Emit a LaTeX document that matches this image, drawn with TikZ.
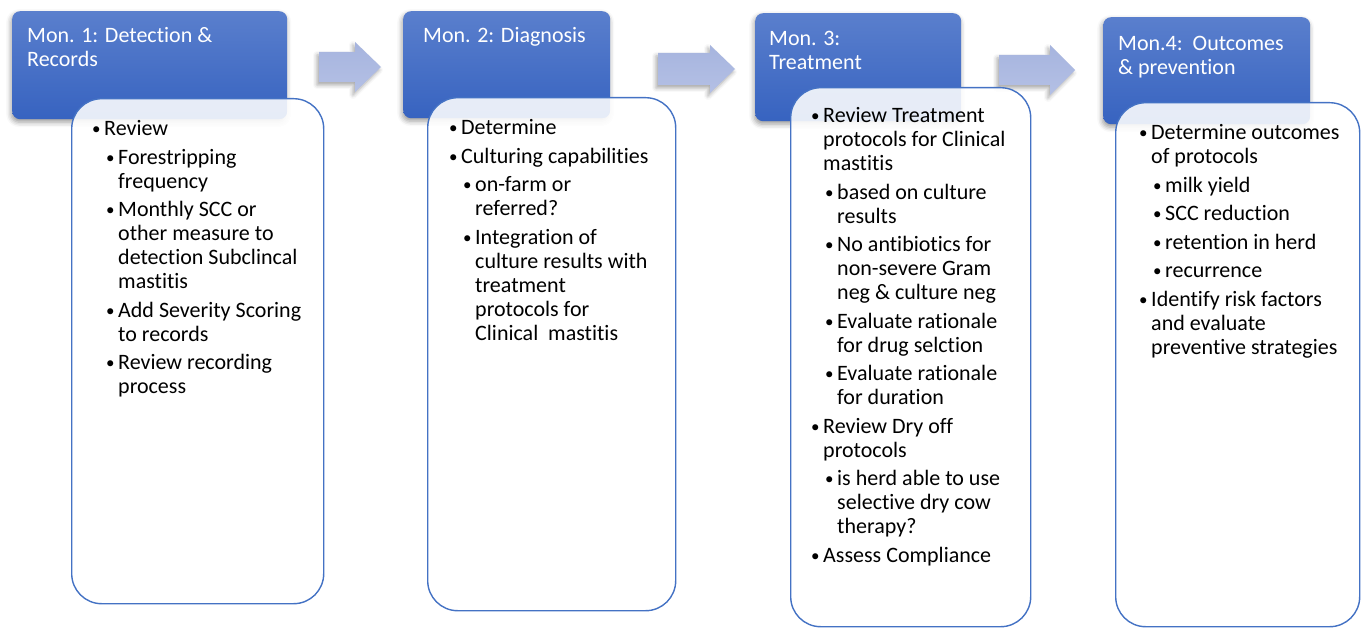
\documentclass[tikz,border=0pt]{standalone}
\usepackage{fontspec}
\setmainfont{Carlito}[Ligatures=NoCommon]
\usetikzlibrary{shadows.blur}

\definecolor{hdrtop}{HTML}{5A7FCD}
\definecolor{hdrbot}{HTML}{3763C0}
\definecolor{boxline}{HTML}{4472C4}
\definecolor{arrtop}{HTML}{A6B4DE}
\definecolor{arrbot}{HTML}{B4C0E5}

% a slightly smaller bullet, kept on the x-height centre line
\newcommand\bul{\raisebox{1.2pt}{\fontsize{17pt}{17pt}\selectfont\textbullet}}
% first-level and second-level bullet items
\newcommand\itemA[1]{\par\hangindent=12pt\hangafter=1\noindent
  \makebox[12pt][l]{\bul}#1\par}
\newcommand\itemB[1]{\par\hangindent=26pt\hangafter=1\noindent
  \hspace*{14pt}\makebox[12pt][l]{\bul}#1\par}
\newenvironment{bulletlist}
  {\begin{minipage}[t]{300pt}\fontsize{22pt}{24pt}\selectfont
   \setlength{\parskip}{4.5pt}\setlength{\parindent}{0pt}}
  {\end{minipage}}
\newcommand\hdr[1]{\parbox[t]{260pt}{\fontsize{22pt}{24pt}\selectfont
  \raggedright #1}}

\tikzset{
  header/.style={rectangle, rounded corners=8pt, anchor=north west,
    top color=hdrtop, bottom color=hdrbot, draw=none, inner sep=0pt,
    blur shadow={shadow xshift=-1pt, shadow yshift=-3pt,
      shadow blur radius=5pt, shadow opacity=40}},
  hdrtext/.style={anchor=base west, inner sep=0pt, text=white},
  listbox/.style={rectangle, rounded corners=30pt, anchor=north west,
    draw=boxline, line width=1.4pt, fill=white, fill opacity=0.88,
    draw opacity=1, inner sep=0pt},
  listtext/.style={anchor=base west, inner sep=0pt},
  flowarrow/.style={draw=none, top color=arrtop, bottom color=arrbot,
    blur shadow={shadow xshift=-2pt, shadow yshift=-3pt,
      shadow blur radius=4pt, shadow opacity=35}}
}

\begin{document}
\begin{tikzpicture}[x=1pt,y=-1pt]
\useasboundingbox (0,0) rectangle (1363,628);
\clip (0,0) rectangle (1363,628);

% month headers
\node[header, minimum width=275pt, minimum height=108pt] (h1) at (12,11) {};
\node[header, minimum width=207pt, minimum height=107pt] (h2) at (403,11) {};
\node[header, minimum width=206pt, minimum height=108pt] (h3) at (755,13) {};
\node[header, minimum width=207pt, minimum height=107pt] (h4) at (1103,17) {};

\node[hdrtext] (t1) at (27,43) {\hdr{Mon. 1: Detection \&\\Records}};
\node[hdrtext] (t2) at (423,43) {\hdr{Mon. 2: Diagnosis}};
\node[hdrtext] (t3) at (769,46) {\hdr{Mon. 3:\\Treatment}};
\node[hdrtext] (t4) at (1118,51) {\hdr{Mon.4:\ \ Outcomes\\\& prevention}};

% block arrows between months
\path[flowarrow] (319,52) -- (355,52) -- (355,42) -- (381,67)
  -- (355,92) -- (355,82) -- (319,82) -- cycle;
\path[flowarrow] (658,53) -- (710,53) -- (710,45) -- (735,69)
  -- (710,93) -- (710,85) -- (658,85) -- cycle;
\path[flowarrow] (999,55) -- (1050,55) -- (1050,45) -- (1075,70)
  -- (1050,95) -- (1050,85) -- (999,85) -- cycle;

% content boxes
\node[listbox, minimum width=252pt, minimum height=505pt] (b1) at (71,98) {};
\node[listbox, minimum width=248pt, minimum height=513pt] (b2) at (427,97) {};
\node[listbox, minimum width=240pt, minimum height=539pt] (b3) at (790,87) {};
\node[listbox, minimum width=244pt, minimum height=524pt] (b4) at (1115,102) {};

\node[listtext] (l1) at (92,136) {\begin{bulletlist}
\itemA{Review}
\itemB{Forestripping\\frequency}
\itemB{Monthly SCC or\\other measure to\\detection Subclincal\\mastitis}
\itemB{Add Severity Scoring\\to records}
\itemB{Review recording\\process}
\end{bulletlist}};

\node[listtext] (l2) at (449,135) {\begin{bulletlist}
\itemA{Determine}
\itemA{Culturing capabilities}
\itemB{on-farm or\\referred?}
\itemB{Integration of\\culture results with\\treatment\\protocols for\\Clinical\ \ mastitis}
\end{bulletlist}};

\node[listtext] (l3) at (811,123) {\begin{bulletlist}
\itemA{Review Treatment\\protocols for Clinical\\mastitis}
\itemB{based on culture\\results}
\itemB{No antibiotics for\\non-severe Gram\\neg \& culture neg}
\itemB{Evaluate rationale\\for drug selction}
\itemB{Evaluate rationale\\for duration}
\itemA{Review Dry off\\protocols}
\itemB{is herd able to use\\selective dry cow\\therapy?}
\itemA{Assess Compliance}
\end{bulletlist}};

\node[listtext] (l4) at (1139,140) {\begin{bulletlist}
\itemA{Determine outcomes\\of protocols}
\itemB{milk yield}
\itemB{SCC reduction}
\itemB{retention in herd}
\itemB{recurrence}
\itemA{Identify risk factors\\and evaluate\\preventive strategies}
\end{bulletlist}};
\end{tikzpicture}
\end{document}
